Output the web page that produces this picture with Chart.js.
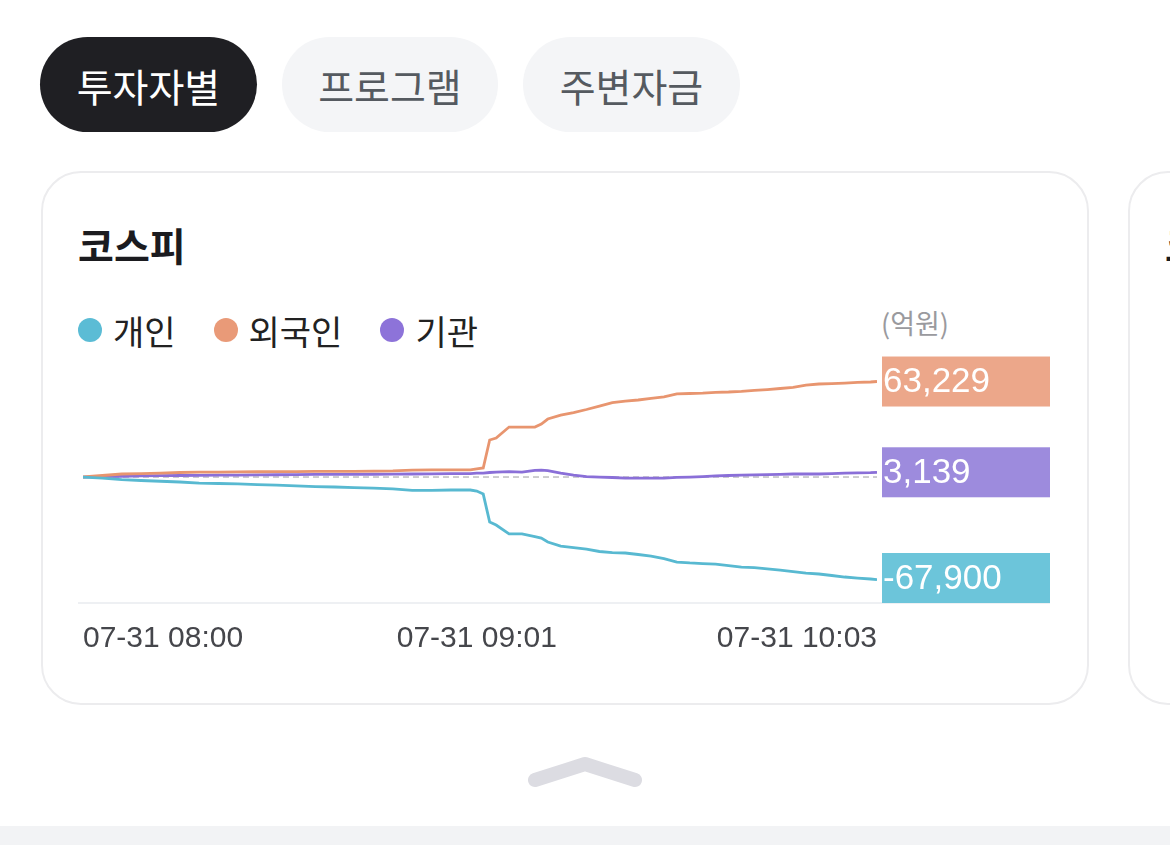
<!DOCTYPE html>
<html>
<head>
<meta charset="utf-8">
<script src="https://cdn.jsdelivr.net/npm/chart.js"></script>
<style>
  html, body { margin: 0; padding: 0; background: #fff; }
  body { width: 1170px; height: 845px; position: relative; overflow: hidden; font-family: "Noto Sans CJK KR", sans-serif; }
  .tab { position: absolute; top: 37px; height: 95px; border-radius: 48px; display: flex; align-items: center; justify-content: center; font-size: 39px; }
  .tab.on { background: #1f1f23; color: #fff; }
  .tab.off { background: #f4f5f7; color: #555a60; }
  .card { position: absolute; top: 171px; height: 530px; border: 2px solid #ececee; border-radius: 40px; background: #fff; }
  .title { position: absolute; left: 35px; top: 43px; font-size: 39px; font-weight: 700; color: #1b1b1f; }
  #legend { position: absolute; left: 78px; top: 306px; display: flex; gap: 38px; font-size: 34px; color: #222; }
  #legend .item { display: flex; align-items: center; height: 48px; }
  #legend .dot { width: 24px; height: 24px; border-radius: 50%; margin-right: 11px; }
  .unit { position: absolute; left: 881px; top: 303px; font-size: 27px; color: #9a9a9e; }
  .baseline { position: absolute; left: 78px; top: 602px; width: 972px; height: 2px; background: #eef0f3; }
  #wrap { position: absolute; left: 60px; top: 340px; width: 1010px; height: 340px; }
  .bottom { position: absolute; left: 0; top: 826px; width: 1170px; height: 19px; background: #f2f3f5; }
</style>
</head>
<body>
<div class="tab on" style="left:40px;width:217px;">투자자별</div>
<div class="tab off" style="left:282px;width:216px;">프로그램</div>
<div class="tab off" style="left:523px;width:217px;">주변자금</div>

<div class="card" style="left:41px;width:1044px;">
  <div class="title">코스피</div>
</div>
<div class="card" style="left:1128px;width:600px;">
  <div class="title">코스닥</div>
</div>

<div id="legend"></div>
<div class="unit">(억원)</div>
<div class="baseline"></div>
<div id="wrap"><canvas id="chart" width="1010" height="340"></canvas></div>

<svg style="position:absolute;left:520px;top:748px" width="130" height="45">
  <path d="M15 32 L65 16 L115 32" stroke="#dcdce2" stroke-width="14" fill="none" stroke-linecap="round" stroke-linejoin="round"/>
</svg>
<div class="bottom"></div>

<script>
// 07-31 time points (HH:MM)
const times = [
  '08:00','08:03','08:06','08:09','08:12','08:15','08:18','08:21','08:24','08:27',
  '08:30','08:33','08:36','08:39','08:42','08:45','08:48','08:51','08:54','08:57',
  '09:00','09:01','09:02','09:03','09:04','09:06','09:08','09:10','09:11','09:12',
  '09:14','09:16','09:18','09:20','09:22','09:24','09:26','09:28','09:30','09:32',
  '09:34','09:36','09:38','09:40','09:42','09:44','09:46','09:48','09:50','09:52',
  '09:54','09:56','09:58','10:00','10:02','10:03'
];
const tickTimes = ['08:00', '09:01', '10:03'];

const seriesNames = ['개인', '외국인', '기관'];

// 억원
const individual = [
  0, -700, -1700, -2300, -2800, -3300, -4000, -4300, -4600, -5000,
  -5300, -5800, -6300, -6600, -7000, -7300, -7900, -8900, -8800, -8600,
  -8600, -9300, -11300, -29800, -31800, -37700, -37700, -39400, -40400, -43000,
  -45700, -46700, -47700, -49300, -50000, -50300, -51300, -52300, -54000, -56300,
  -56900, -57300, -57700, -58600, -59600, -60000, -60800, -61600, -62600, -63600,
  -64200, -65200, -66200, -66900, -67500, -67900
];
const foreign = [
  0, 1000, 2000, 2300, 2600, 3000, 3300, 3300, 3400, 3500,
  3600, 3600, 3700, 3800, 3800, 3900, 4100, 4600, 4700, 4700,
  4700, 5400, 6000, 24500, 25800, 33100, 33100, 33100, 35100, 38400,
  41000, 42700, 44700, 47000, 49300, 50300, 51000, 52000, 53000, 55000,
  55300, 55600, 56100, 56300, 56700, 57300, 57900, 58600, 59400, 60900,
  61600, 61900, 62200, 62600, 62900, 63229
];
const institution = [
  0, 300, 500, 700, 900, 1000, 1100, 1200, 1300, 1400,
  1500, 1600, 1700, 1750, 1800, 1850, 1900, 2000, 2100, 2200,
  2300, 2600, 2600, 3000, 3300, 3600, 3300, 4400, 4600, 4300,
  2600, 1300, 300, 0, -300, -700, -700, -700, -700, -200,
  0, 300, 700, 1000, 1300, 1400, 1600, 1800, 2000, 2000,
  2000, 2300, 2600, 2700, 2900, 3139
];

const lineColors = ['#58b9d1', '#e8956f', '#8a6fd8'];
const boxColors = ['#6cc5da', '#eca78a', '#9d8bdd'];
const dotColors = ['#5bbcd5', '#e99a78', '#8d73d9'];

function toMin(t) {
  const [h, m] = t.split(':').map(Number);
  return (h - 8) * 60 + m;
}
function fromMin(v) {
  const h = 8 + Math.floor(v / 60), m = v % 60;
  return String(h).padStart(2, '0') + ':' + String(m).padStart(2, '0');
}

// legend
const legend = document.getElementById('legend');
seriesNames.forEach((name, i) => {
  const item = document.createElement('div');
  item.className = 'item';
  item.innerHTML = '<span class="dot" style="background:' + dotColors[i] + '"></span>' + name;
  legend.appendChild(item);
});

const allSeries = [individual, foreign, institution];

// dashed zero line + last value boxes
const extras = {
  id: 'extras',
  beforeDatasetsDraw(chart) {
    const { ctx, chartArea, scales } = chart;
    const y0 = scales.y.getPixelForValue(0);
    ctx.save();
    ctx.strokeStyle = '#9c9ca0';
    ctx.lineWidth = 1;
    ctx.setLineDash([6, 4]);
    ctx.beginPath();
    ctx.moveTo(chartArea.left, y0);
    ctx.lineTo(chartArea.right, y0);
    ctx.stroke();
    ctx.restore();
  },
  afterDatasetsDraw(chart) {
    const { ctx, chartArea, scales } = chart;
    ctx.save();
    allSeries.forEach((arr, i) => {
      const last = arr[arr.length - 1];
      let yc = scales.y.getPixelForValue(last);
      const h = 50;
      let top = yc - h / 2;
      if (top + h > chartArea.bottom) top = chartArea.bottom - h;
      const x = chartArea.right + 5;
      ctx.fillStyle = boxColors[i];
      ctx.fillRect(x, top, 168, h);
      ctx.fillStyle = '#fff';
      ctx.font = '35px "Liberation Sans", Arial, sans-serif';
      ctx.textBaseline = 'middle';
      ctx.textAlign = 'left';
      ctx.fillText(last.toLocaleString('en-US'), x + 1, top + h / 2 + 1);
    });
    ctx.restore();
  }
};

const xs = times.map(toMin);
const ticksAt = tickTimes.map(toMin);

new Chart(document.getElementById('chart').getContext('2d'), {
  type: 'line',
  data: {
    datasets: allSeries.map((arr, i) => ({
      label: seriesNames[i],
      data: arr.map((v, j) => ({ x: xs[j], y: v })),
      borderColor: lineColors[i],
      borderWidth: 2.8,
      pointRadius: 0,
      tension: 0,
      fill: false
    }))
  },
  options: {
    responsive: false,
    animation: false,
    events: [],
    layout: { padding: { left: 23, right: 193, top: 18, bottom: 0 } },
    plugins: { legend: { display: false }, tooltip: { enabled: false } },
    scales: {
      x: {
        type: 'linear',
        min: xs[0],
        max: xs[xs.length - 1],
        grid: { display: false, drawTicks: false },
        border: { display: false },
        afterBuildTicks(scale) { scale.ticks = ticksAt.map(v => ({ value: v })); },
        afterFit(scale) { scale.height = 77; },
        ticks: {
          align: 'inner',
          maxRotation: 0,
          autoSkip: false,
          padding: 18,
          color: '#45464b',
          font: { family: '"Liberation Sans", Arial, sans-serif', size: 30 },
          callback: v => '07-31 ' + fromMin(v)
        }
      },
      y: {
        display: false,
        min: -83400,
        max: 78800
      }
    }
  },
  plugins: [extras]
});
</script>
</body>
</html>
